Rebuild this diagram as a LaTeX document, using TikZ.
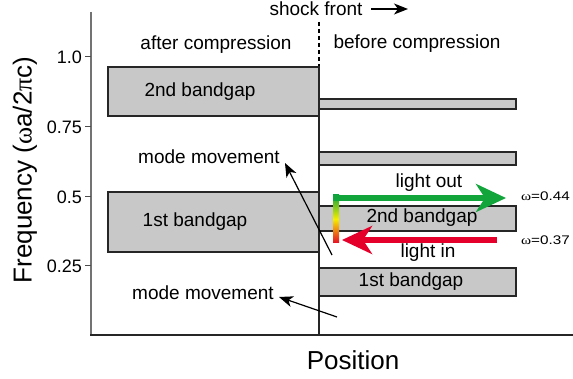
\documentclass[tikz,border=0pt]{standalone}
\usepackage{fontspec}
\setmainfont{Liberation Sans}
\newfontfamily\symfont{Liberation Serif}
\usetikzlibrary{arrows.meta}
\definecolor{boxgray}{RGB}{200,200,200}
\definecolor{arrgreen}{RGB}{18,165,60}
\definecolor{arrred}{RGB}{228,0,42}
\definecolor{gyellow}{RGB}{245,238,0}
\begin{document}
\begin{tikzpicture}[x=1pt,y=-1pt,
  bandbox/.style={draw=black!85, fill=boxgray, line width=1.2pt},
  lbl/.style={font=\fontsize{19}{22}\selectfont, inner sep=0pt},
  ticklbl/.style={font=\fontsize{18}{21}\selectfont, inner sep=0pt, anchor=east},
  biglbl/.style={font=\fontsize{26}{30}\selectfont, inner sep=0pt},
  omlbl/.style={font=\fontsize{12.5}{15}\selectfont, inner sep=0pt, anchor=west},
  ptr/.style={-{Stealth[length=14pt,width=11pt,inset=4pt]}, line width=1.2pt},
  fatarrow/.style={line width=6pt, -{Stealth[length=30pt,width=28pt,inset=9pt]}}]
\useasboundingbox (0,0) rectangle (573,379);
\fill[white] (0,0) rectangle (573,379);
% axes
\draw[line width=1.3pt, black!55] (91,12) -- (91,336);
\draw[line width=1.3pt, black!85] (90.4,335) -- (573,335);
\foreach \yy/\tl in {57/1.0,127/0.75,197/0.5,266/0.25}{
  \draw[line width=1pt, black!70] (85,\yy) -- (91,\yy);
  \node[ticklbl] at (82,\yy) {\tl};
}
\node[biglbl, rotate=90] (ylab) at (25,170) {Frequency ({\symfont ω}a/2{\symfont π}c)};
\node[biglbl] (xlab) at (353,360) {Position};
% shock front line
\draw[line width=1.2pt, dash pattern=on 4pt off 3pt] (319,22) -- (319,67);
% boxes
\draw[bandbox] (108,67) rectangle (319,116);
\draw[bandbox] (108,192) rectangle (319,252);
\draw[bandbox] (319,99) rectangle (516,109);
\draw[bandbox] (319,152) rectangle (516,165);
\draw[bandbox] (319,206) rectangle (516,231);
\draw[bandbox] (319,268) rectangle (516,296);
\draw[line width=1.2pt, black!85] (319,67) -- (319,335);
% texts
\node[lbl] (after) at (216,45) {after compression};
\node[lbl] (before) at (417,44) {before compression};
\node[lbl] (lg2) at (200,92) {2nd bandgap};
\node[lbl] (lg1) at (195,222) {1st bandgap};
\node[lbl] (rg2) at (422,218) {2nd bandgap};
\node[lbl] (rg1) at (411,282) {1st bandgap};
\node[lbl] (mm1) at (209,157) {mode movement};
\node[lbl] (mm2) at (203,293) {mode movement};
\node[lbl] (shock) at (316,9) {shock front};
\node[lbl] (lout) at (429,183) {light out};
\node[lbl] (lin) at (428,253) {light in};
\node[omlbl] (om1) at (521,196) {\scalebox{1.22}[1]{{\symfont ω}=0.44}};
\node[omlbl] (om2) at (521,240) {\scalebox{1.22}[1]{{\symfont ω}=0.37}};
% arrows
\coordinate (s0) at (371,9);
\coordinate (s1) at (408,9);
\draw[ptr] (s0) -- (s1);
\coordinate (a0) at (332,255);
\coordinate (a1) at (285,163);
\draw[ptr] (a0) -- (a1);
\coordinate (b0) at (337,317);
\coordinate (b1) at (279,297);
\draw[ptr] (b0) -- (b1);
% light arrows
\shade[top color=arrgreen, bottom color=arrred!90!orange, middle color=gyellow] (333,195) rectangle (339,243);
\coordinate (g0) at (333,198);
\coordinate (g1) at (506,198);
\draw[fatarrow, arrgreen] (g0) -- (g1);
\coordinate (r0) at (497,240);
\coordinate (r1) at (342,240);
\draw[fatarrow, arrred] (r0) -- (r1);
\end{tikzpicture}
\end{document}
